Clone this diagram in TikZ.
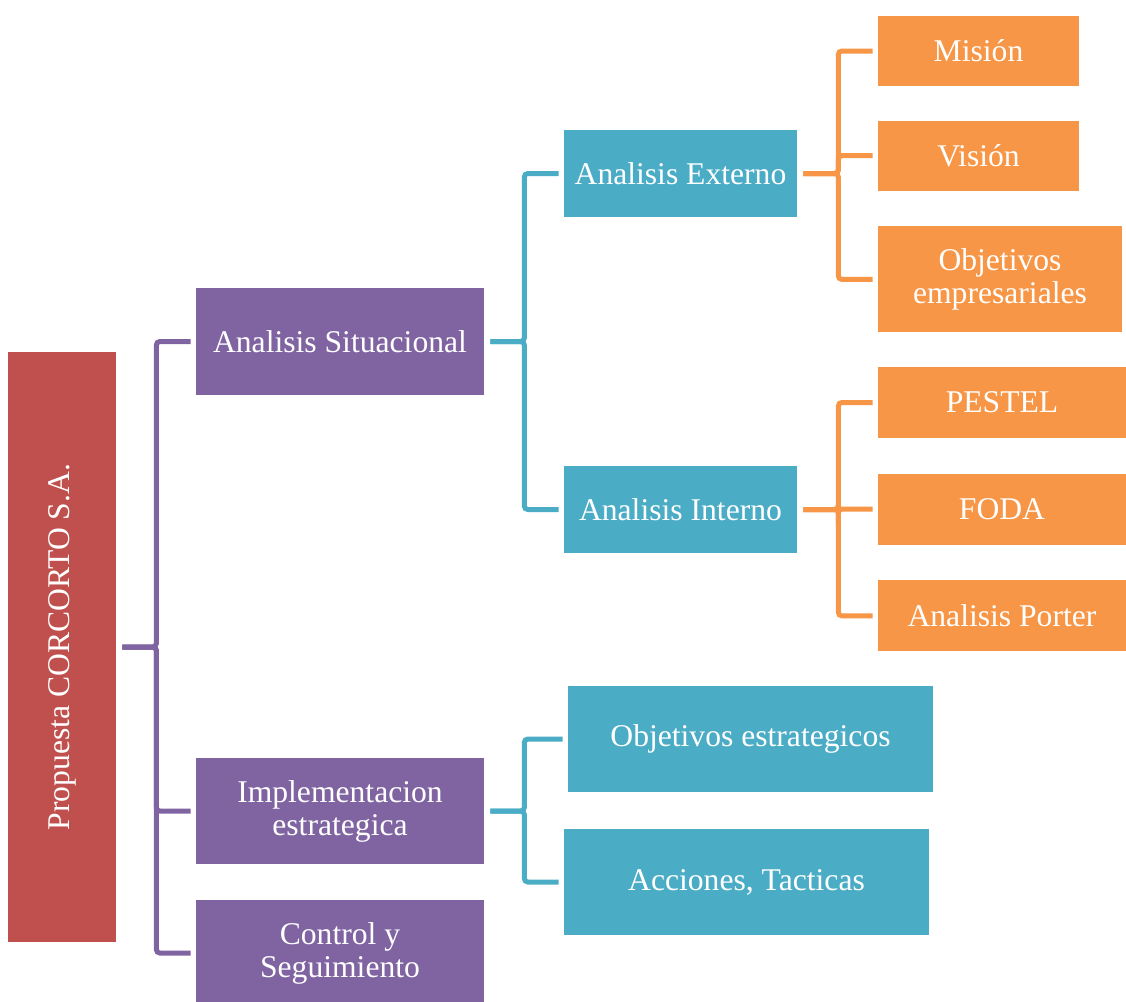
\documentclass[tikz,border=0pt]{standalone}
\usepackage{fontspec}
\setmainfont{Liberation Serif}
\usepackage{graphicx}
\usepackage{tikz}
\usetikzlibrary{positioning}
\definecolor{boxred}{RGB}{192,80,77}
\definecolor{boxpurple}{RGB}{128,100,162}
\definecolor{boxteal}{RGB}{75,172,198}
\definecolor{boxorange}{RGB}{247,150,70}

\begin{document}
\begin{tikzpicture}[
  x=0.02cm, y=-0.02cm,
  font=\fontsize{18}{18.8}\selectfont,
  node distance=7mm,
  bx/.style={align=center, text=white, inner sep=2pt},
  rb/.style={bx, fill=boxred, minimum width=2.16cm, minimum height=11.8cm},
  pb/.style={bx, fill=boxpurple, minimum width=5.76cm, minimum height=2.13cm},
  tb/.style={bx, fill=boxteal, minimum height=1.74cm},
  ob/.style={bx, fill=boxorange, minimum height=1.42cm},
  ln/.style={line width=0.1cm, rounded corners=2pt, shorten <=0.12cm, shorten >=0.1cm}
]
\useasboundingbox (0,0) rectangle (1126,1001);

% ---- root ----
\node[rb] (root) at (62,647) {\rotatebox{90}{Propuesta CORCORTO S.A.}};

% ---- level 1 ----
\node[pb] (sit) at (340,341.5) {Analisis Situacional};
\node[pb] (impl) at (340,811) {Implementacion\\estrategica};
\node[pb] (ctrl) at (340,953) {Control y\\Seguimiento};

% ---- level 2 ----
\node[tb, minimum width=4.66cm] (ext) at (680.5,173.5) {Analisis Externo};
\node[tb, minimum width=4.66cm] (int) at (680.5,509.5) {Analisis Interno};
\node[tb, minimum width=7.3cm, minimum height=2.12cm] (objest) at (750.5,739) {Objetivos estrategicos};
\node[tb, minimum width=7.3cm, minimum height=2.12cm] (acc) at (746.5,882) {Acciones, Tacticas};

% ---- level 3: under Analisis Externo ----
\node[ob, minimum width=4.02cm, minimum height=1.4cm] (mis) at (978.5,51) {Misión};
\node[ob, minimum width=4.02cm, minimum height=1.4cm, below=6.8mm of mis.south west, anchor=north west] (vis) {Visión};
\node[ob, minimum width=4.88cm, minimum height=2.12cm, below=of vis.south west, anchor=north west] (objemp) {Objetivos\\empresariales};

% ---- level 3: under Analisis Interno ----
\node[ob, minimum width=4.96cm] (pestel) at (1002,402.5) {PESTEL};
\node[ob, minimum width=4.96cm, below=of pestel] (foda) {FODA};
\node[ob, minimum width=4.96cm, below=of foda] (porter) {Analisis Porter};

% ---- brackets ----
\draw[ln, boxpurple] (root.east) -- ++(40,0) |- (sit.west);
\draw[ln, boxpurple] (root.east) -- ++(40,0) |- (impl.west);
\draw[ln, boxpurple] (root.east) -- ++(40,0) |- (ctrl.west);

\draw[ln, boxteal] (sit.east) -- ++(40,0) |- (ext.west);
\draw[ln, boxteal] (sit.east) -- ++(40,0) |- (int.west);
\draw[ln, boxteal] (impl.east) -- ++(40,0) |- (objest.west);
\draw[ln, boxteal] (impl.east) -- ++(40,0) |- (acc.west);

\draw[ln, boxorange] (ext.east) -- ++(41,0) |- (mis.west);
\draw[ln, boxorange] (ext.east) -- ++(41,0) |- (vis.west);
\draw[ln, boxorange] (ext.east) -- ++(41,0) |- (objemp.west);
\draw[ln, boxorange] (int.east) -- ++(41,0) |- (pestel.west);
\draw[ln, boxorange] (int.east) -- ++(41,0) |- (foda.west);
\draw[ln, boxorange] (int.east) -- ++(41,0) |- (porter.west);

\end{tikzpicture}
\end{document}
